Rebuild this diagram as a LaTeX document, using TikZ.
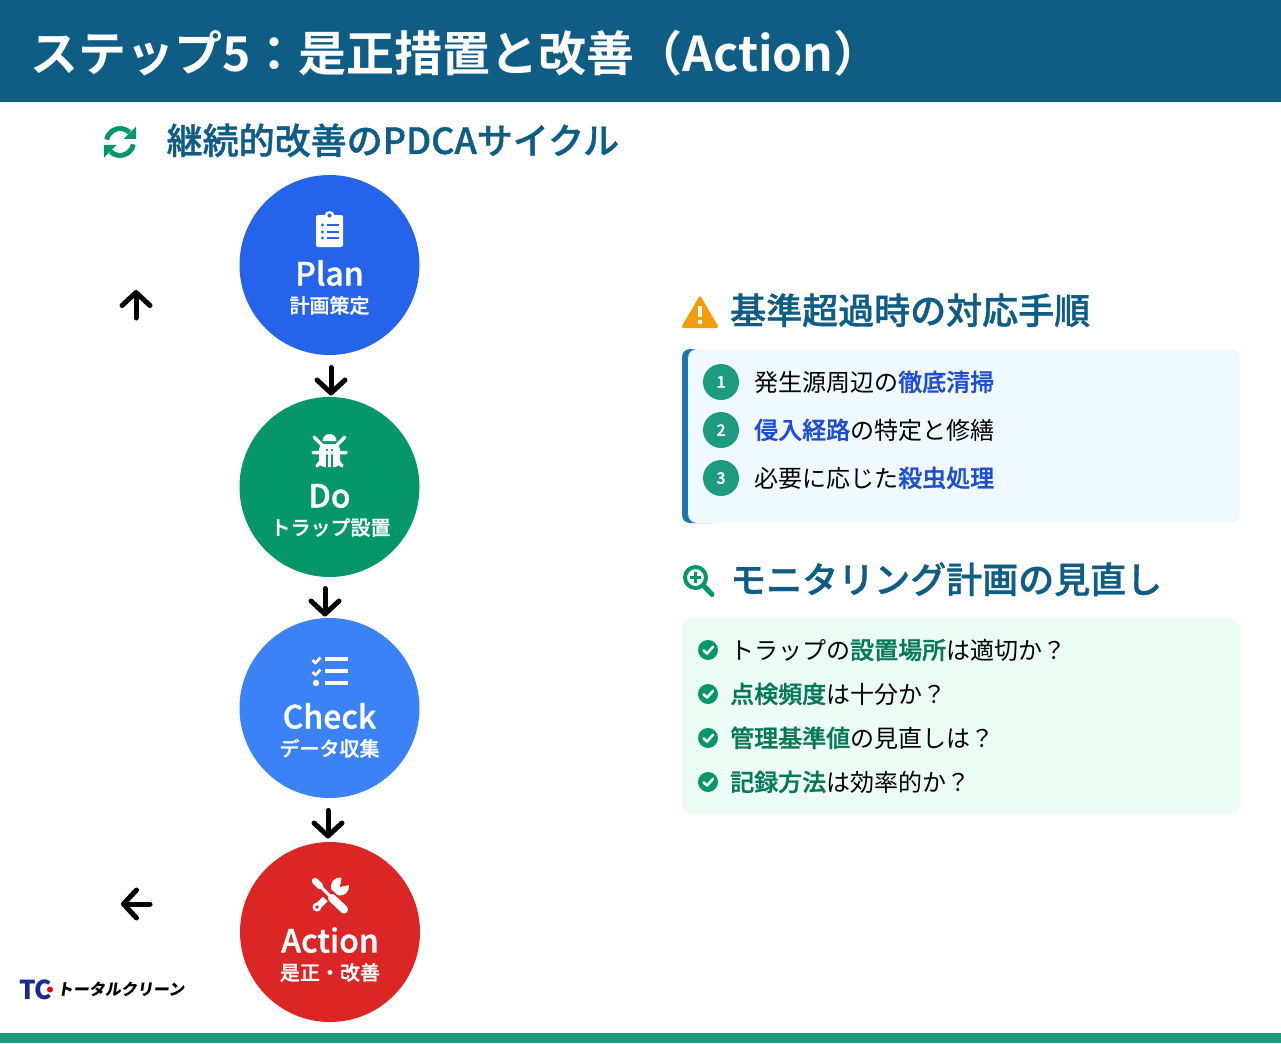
\documentclass[tikz,border=0pt]{standalone}
\usepackage{fontspec}
\setmainfont{Noto Sans CJK JP}[BoldFont={Noto Sans CJK JP Medium}, BoldFeatures={FakeBold=1}]
\newfontfamily\titlefont{Noto Sans CJK JP Bold}
\newfontfamily\logofont{Noto Sans CJK JP Black}
\newfontfamily\logoslant[FakeSlant=0.15]{Noto Sans CJK JP Black}
\usepackage{xcolor}
\usetikzlibrary{arrows.meta,calc}
\definecolor{headcol}{HTML}{0F5C85}
\definecolor{plancol}{HTML}{2563EB}
\definecolor{docol}{HTML}{059669}
\definecolor{checkcol}{HTML}{3B82F6}
\definecolor{actcol}{HTML}{DC2626}
\definecolor{barcol}{HTML}{1D9B80}
\definecolor{bluebox}{HTML}{F0F9FF}
\definecolor{greenbox}{HTML}{ECFDF5}
\definecolor{edgecol}{HTML}{1A78B0}
\definecolor{warncol}{HTML}{F59E0B}
\definecolor{blueem}{HTML}{1D4ED8}
\definecolor{greenem}{HTML}{047857}
\definecolor{logocol}{HTML}{1A2A8F}
\newcommand{\fz}[1]{\fontsize{#1}{#1}\selectfont}
\newcommand{\bem}[1]{\textcolor{blueem}{\textbf{#1}}}
\newcommand{\gem}[1]{\textcolor{greenem}{\textbf{#1}}}

\begin{document}
\begin{tikzpicture}[x=1pt, y=-1pt, line join=round, line cap=round,
	txt/.style={inner sep=0pt, anchor=base west},
	ctxt/.style={inner sep=0pt, anchor=base, text=white},
	stepcircle/.style={circle, inner sep=0pt, minimum size=180pt},
	numcircle/.style={circle, inner sep=0pt, minimum size=36pt, fill=barcol, text=white, font=\fz{16}\bfseries},
	okcircle/.style={circle, inner sep=0pt, minimum size=20pt, fill=docol},
	arr/.style={line width=5pt, -{Straight Barb[length=13pt, width=28pt, line width=5pt, round]}}]
	\useasboundingbox (0,0) rectangle (1281,1043);
	% bars
	\fill[headcol] (0,0) rectangle (1281,102.5);
	\fill[barcol] (0,1033) rectangle (1281,1043);
	\node[txt, text=white, font=\fz{48}\titlefont] (title) at (30,71.5) {ステップ5：是正措置と改善（Action）};
	\node[txt, text=headcol, font=\fz{36}\bfseries] (cycle) at (166.5,154) {継続的改善のPDCAサイクル};
	% sync icon
	\coordinate (sync) at (120,142);
	\draw[docol, line width=5pt, line cap=butt] ($(sync)+(-170:13.5)$) arc[start angle=-170, end angle=-45, radius=13.5];
	\draw[docol, line width=5pt, line cap=butt] ($(sync)+(10:13.5)$) arc[start angle=10, end angle=135, radius=13.5];
	\fill[docol] (136,126.5)--(136,139)--(123.5,139)--cycle (104,157.5)--(104,145)--(116.5,145)--cycle;
	% circles
	\node[stepcircle, fill=plancol] (plan) at (329.5,265) {};
	\node[stepcircle, fill=docol] (do) at (329.5,487) {};
	\node[stepcircle, fill=checkcol] (check) at (329.5,708) {};
	\node[stepcircle, fill=actcol] (action) at (330,932) {};
	\node[ctxt, font=\fz{32}\bfseries] (planA) at (329.5,285.5) {Plan};
	\node[ctxt, font=\fz{20}\bfseries] (planB) at (329.5,313) {計画策定};
	\node[ctxt, font=\fz{32}\bfseries] (doA) at (329.5,507.5) {Do};
	\node[ctxt, font=\fz{20}\bfseries] (doB) at (330.5,535) {トラップ設置};
	\node[ctxt, font=\fz{32}\bfseries] (checkA) at (329.5,728.5) {Check};
	\node[ctxt, font=\fz{20}\bfseries] (checkB) at (329.5,756) {データ収集};
	\node[ctxt, font=\fz{32}\bfseries] (actionA) at (330,952.5) {Action};
	\node[ctxt, font=\fz{20}\bfseries] (actionB) at (330,980) {是正・改善};
	% arrows
	\coordinate (a1) at (331,367.5); \coordinate (b1) at (331,395.5);
	\coordinate (a2) at (325,588.5); \coordinate (b2) at (325,616.5);
	\coordinate (a3) at (328,810.5); \coordinate (b3) at (328,838.5);
	\coordinate (a4) at (136,318); \coordinate (b4) at (136,290);
	\coordinate (a5) at (150,904); \coordinate (b5) at (121,904);
	\foreach \i in {1,...,5} \draw[arr] (a\i)--(b\i);
	% clipboard
	\fill[white, rounded corners=2pt] (316,215) rectangle (343,247);
	\fill[white] (329.5,216) circle(5);
	\fill[plancol] (329.5,215.5) circle(2);
	\foreach \y in {225,232,238} {
		\fill[plancol] (322.5,\y) circle(1.6);
		\draw[plancol, line width=1.8pt, line cap=butt] (326.5,\y)--(339,\y);
	}
	% bug
	\fill[white] (322.5,441) arc[start angle=180, end angle=360, radius=7] -- cycle;
	\fill[white, rounded corners=5pt] (319,444) -- (340,444) -- (340,467) -- (319,467) -- cycle;
	\draw[docol, line width=1.6pt, line cap=butt] (327,449)--(327,467) (332,449)--(332,467);
	\draw[white, line width=3.5pt] (314,437)--(322,445) (345,437)--(337,445) (313,452.5)--(346,452.5) (317,466)--(322,460) (342,466)--(337,460);
	% checklist
	\draw[white, line width=4pt, line cap=butt] (325,659)--(347.5,659) (325,671)--(347.5,671) (325,683)--(347.5,683);
	\draw[white, line width=2.8pt, line cap=butt] (312.5,660)--(315.5,663)--(320.5,657.5) (312.5,672)--(315.5,675)--(320.5,669.5);
	\fill[white] (316,683) circle(3.2);
	% tools
	\draw[white, line width=6.5pt] (317,907)--(339,886);
	\fill[white] (317,907) circle(4.5);
	\fill[white] (340,886.5) circle(9);
	\fill[actcol] (340,887)--(342,875)--(353,884)--cycle;
	\fill[actcol] (317,907) circle(1.8);
	\draw[actcol, line width=11pt] (324,890)--(346,911);
	\draw[white, line width=3pt] (316,882)--(331,897);
	\draw[white, line width=6.5pt] (315,881)--(320,886);
	\draw[white, line width=8pt] (332,898)--(344,909.5);
	% warning
	\fill[warncol, draw=warncol, line width=3pt] (700,298)--(716.5,326.5)--(683.5,326.5)--cycle;
	\draw[white, line width=4pt, line cap=butt] (700,306)--(700,317);
	\fill[white] (700,322) circle(2.4);
	\node[txt, text=headcol, font=\fz{36}\bfseries] (rule) at (730,324) {基準超過時の対応手順};
	% blue box
	\fill[edgecol, rounded corners=8pt] (682,349) rectangle (720,523);
	\fill[bluebox, rounded corners=9pt] (688,349) rectangle (1240,523);
	\foreach \n/\y in {1/382,2/430,3/478} \node[numcircle] (num\n) at (721,\y) {\n};
	\node[txt, font=\fz{24}] (itemA) at (754,391) {発生源周辺の\bem{徹底清掃}};
	\node[txt, font=\fz{24}] (itemB) at (754,439) {\bem{侵入経路}の特定と修繕};
	\node[txt, font=\fz{24}] (itemC) at (754,487) {必要に応じた\bem{殺虫処理}};
	% magnifier
	\draw[docol, line width=4pt] (695.5,577.5) circle(10.5);
	\draw[docol, line width=5pt] (704,586)--(712,594.5);
	\draw[docol, line width=3pt, line cap=butt] (690,577.5)--(701,577.5) (695.5,572)--(695.5,583);
	\node[txt, text=headcol, font=\fz{36}\bfseries] (plan2) at (730,593) {モニタリング計画の見直し};
	% green box
	\fill[greenbox, rounded corners=10pt] (682,618) rectangle (1240,814);
	\foreach \n/\y in {1/650,2/694,3/738,4/782} {
		\node[okcircle] (ok\n) at (708,\y) {};
		\draw[white, line width=2.6pt] ($(ok\n)+(-4.5,0.3)$)--($(ok\n)+(-1,3.5)$)--($(ok\n)+(5,-3.2)$);
	}
	\node[txt, font=\fz{24}] (askA) at (730,659) {トラップの\gem{設置場所}は適切か？};
	\node[txt, font=\fz{24}] (askB) at (730,703) {\gem{点検頻度}は十分か？};
	\node[txt, font=\fz{24}] (askC) at (730,747) {\gem{管理基準値}の見直しは？};
	\node[txt, font=\fz{24}] (askD) at (730,791) {\gem{記録方法}は効率的か？};
	% logo
	\node[txt, text=logocol, font=\fz{26}\logofont] (logoA) at (19,999) {TC};
	\fill[red] (50,989.5) circle(3);
	\node[txt, font=\fz{16}\logoslant] (logoB) at (57,995.5) {トータルクリーン};
\end{tikzpicture}
\end{document}
